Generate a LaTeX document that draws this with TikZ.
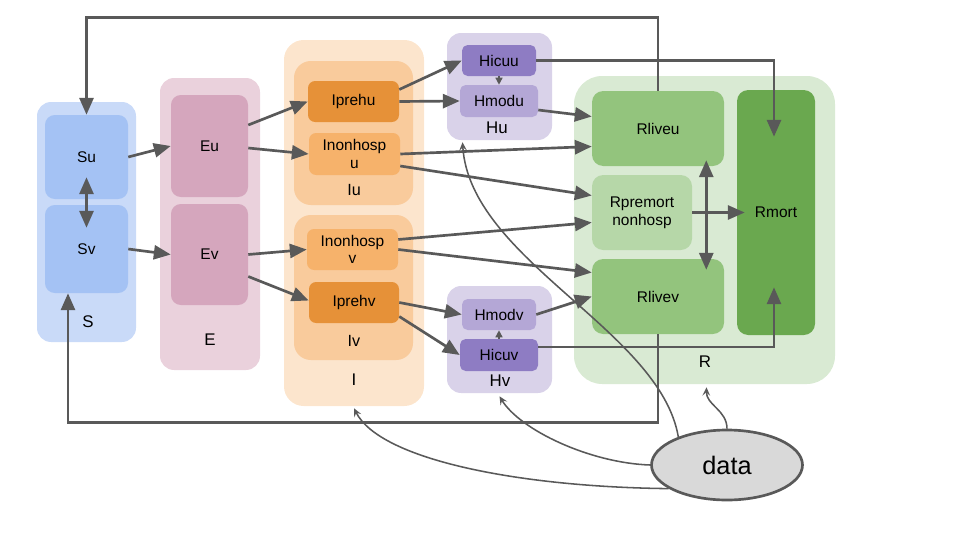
\documentclass[tikz,border=0pt]{standalone}
\usepackage{fontspec}
\setmainfont{Liberation Sans}
\usetikzlibrary{arrows.meta,calc,shapes.geometric}

\definecolor{sOut}{HTML}{C9DAF8}
\definecolor{sIn}{HTML}{A4C2F4}
\definecolor{eOut}{HTML}{EAD1DC}
\definecolor{eIn}{HTML}{D5A6BD}
\definecolor{iOut}{HTML}{FCE5CD}
\definecolor{iMid}{HTML}{F9CB9C}
\definecolor{iPre}{HTML}{E69138}
\definecolor{iNon}{HTML}{F6B26B}
\definecolor{hOut}{HTML}{D9D2E9}
\definecolor{hIcu}{HTML}{8E7CC3}
\definecolor{hMod}{HTML}{B4A7D6}
\definecolor{rOut}{HTML}{D9EAD3}
\definecolor{rLive}{HTML}{93C47D}
\definecolor{rPre}{HTML}{B6D7A8}
\definecolor{rMort}{HTML}{6AA84F}
\definecolor{dataFill}{HTML}{D9D9D9}
\definecolor{ink}{HTML}{595959}

\tikzset{
  grp/.style={rectangle, inner sep=0pt, draw=none},
  cell/.style={rectangle, rounded corners=7pt, inner sep=0pt, align=center,
    font=\fontsize{11}{12.5}\selectfont},
  tag/.style={inner sep=0pt, font=\fontsize{12}{14}\selectfont},
  subtag/.style={inner sep=0pt, font=\fontsize{11.5}{13}\selectfont},
  flow/.style={draw=ink, line width=1.9pt, line join=miter,
    -{Triangle[length=12pt,width=10pt]}},
  twoway/.style={draw=ink, line width=1.9pt,
    {Triangle[length=12pt,width=10pt]}-{Triangle[length=12pt,width=10pt]}},
  minor/.style={draw=ink, line width=1pt, -{Triangle[length=5pt,width=5pt]}},
  feed/.style={draw=ink, line width=1.1pt,
    -{Stealth[length=6pt,width=5.5pt,inset=2.5pt,open]}},
}

% box from pixel corners (x1,y1)-(x2,y2)
\newcommand{\pbox}[7]{%
  \node[#2, minimum width={(#5-#3)*0.025cm}, minimum height={(#6-#4)*0.025cm}]
    (#1) at ({(#3+#5)/2},{(#4+#6)/2}) {#7};}

\begin{document}
\begin{tikzpicture}[x=0.025cm, y=-0.025cm]
\useasboundingbox (0,0) rectangle (960,540);

% ---- S compartment
\pbox{S}{grp, fill=sOut, rounded corners=10pt}{37}{102}{136}{342}{}
\pbox{Su}{cell, fill=sIn}{45}{115}{128}{199}{Su}
\pbox{Sv}{cell, fill=sIn}{45}{205}{128}{293}{Sv}
\node[tag] (Slab) at (88,322) {S};

% ---- E compartment
\pbox{E}{grp, fill=eOut, rounded corners=10pt}{160}{78}{260}{370}{}
\pbox{Eu}{cell, fill=eIn}{171}{95}{248}{197}{Eu}
\pbox{Ev}{cell, fill=eIn}{171}{204}{248}{305}{Ev}
\node[tag] (Elab) at (210,340) {E};

% ---- I compartment
\pbox{I}{grp, fill=iOut, rounded corners=14pt}{284}{40}{424}{406}{}
\pbox{Iu}{grp, fill=iMid, rounded corners=12pt}{294}{61}{413}{205}{}
\pbox{Iv}{grp, fill=iMid, rounded corners=12pt}{294}{215}{413}{360}{}
\pbox{Iprehu}{cell, fill=iPre, rounded corners=5pt}{308}{81}{399}{122}{Iprehu}
\pbox{Inonu}{cell, fill=iNon, rounded corners=5pt}{309}{133}{400}{175}{Inonhosp\\u}
\pbox{Inonv}{cell, fill=iNon, rounded corners=5pt}{307}{229}{398}{270}{Inonhosp\\v}
\pbox{Iprehv}{cell, fill=iPre, rounded corners=5pt}{309}{282}{399}{323}{Iprehv}
\node[tag] (Ilab) at (354,380) {I};
\node[subtag] (Iulab) at (354,190) {Iu};
\node[subtag] (Ivlab) at (354,341) {Iv};

% ---- H compartments
\pbox{Hu}{grp, fill=hOut, rounded corners=10pt}{447}{33}{552}{140}{}
\pbox{Hicuu}{cell, fill=hIcu, rounded corners=4pt}{462}{45}{536}{76}{Hicuu}
\pbox{Hmodu}{cell, fill=hMod, rounded corners=4pt}{460}{85}{538}{117}{Hmodu}
\node[tag] (Hulab) at (497,128) {Hu};
\pbox{Hv}{grp, fill=hOut, rounded corners=10pt}{447}{286}{552}{393}{}
\pbox{Hmodv}{cell, fill=hMod, rounded corners=4pt}{462}{299}{536}{330}{Hmodv}
\pbox{Hicuv}{cell, fill=hIcu, rounded corners=4pt}{460}{339}{538}{371}{Hicuv}
\node[tag] (Hvlab) at (500,381) {Hv};

% ---- R compartment
\pbox{R}{grp, fill=rOut, rounded corners=20pt}{574}{76}{835}{384}{}
\pbox{Rliveu}{cell, fill=rLive, rounded corners=8pt}{592}{91}{724}{166}{Rliveu}
\pbox{Rpre}{cell, fill=rPre, rounded corners=8pt}{592}{175}{692}{250}{Rpremort\\nonhosp}
\pbox{Rlivev}{cell, fill=rLive, rounded corners=8pt}{592}{259}{724}{334}{Rlivev}
\pbox{Rmort}{cell, fill=rMort, rounded corners=8pt}{737}{90}{815}{335}{Rmort}
\node[tag] (Rlab) at (705,362) {R};

% ---- data source
\node[ellipse, draw=ink, line width=1.9pt, fill=dataFill, inner sep=0pt,
  minimum width=151*0.025cm, minimum height=70*0.025cm,
  font=\fontsize{18}{20}\selectfont] (data) at (727,465) {data};

% ---- flows
\draw[twoway] ($(Su.south)+(0,-22)$) -- ($(Sv.north)+(0,23)$);
\draw[flow] (Su.east) -- (Eu.west);
\draw[flow] (Sv.east) -- (Ev.west);
\draw[flow] ($(Eu.east)+(0,-21)$) -- (Iprehu.west);
\draw[flow] ($(Eu.east)+(0,2)$) -- (Inonu.west);
\draw[flow] (Ev.east) -- (Inonv.west);
\draw[flow] ($(Ev.east)+(0,22)$) -- ($(Iprehv.west)+(0,-2)$);
\draw[flow] ($(Iprehu.east)+(0,-12)$) -- (Hicuu.west);
\draw[flow] (Iprehu.east) -- (Hmodu.west);
\draw[flow] (Inonu.east) -- ($(Rliveu.west)+(0,18)$);
\draw[flow] ($(Inonu.east)+(0,12)$) -- ($(Rpre.west)+(0,-17)$);
\draw[flow] ($(Inonv.east)+(0,-10)$) -- ($(Rpre.west)+(0,10)$);
\draw[flow] (Inonv.east) -- ($(Rlivev.west)+(0,-24)$);
\draw[flow] (Iprehv.east) -- (Hmodv.west);
\draw[flow] ($(Iprehv.east)+(0,14)$) -- (Hicuv.west);
\draw[flow] ($(Hmodu.east)+(0,9)$) -- ($(Rliveu.west)+(0,-12)$);
\draw[flow] (Hmodv.east) -- (Rlivev.west);
\draw[minor] (Hicuu.south) -- (Hmodu.north);
\draw[minor] (Hicuv.north) -- (Hmodv.south);
\draw[flow] (Hicuu.east) -| ($(Rmort.north)+(-2,47)$);
\draw[flow] ($(Hicuv.east)+(0,-8)$) -| ($(Rmort.south)+(-2,-48)$);
\draw[twoway] ($(Rliveu.south east)+(-18,-6)$) -- ($(Rlivev.north east)+(-18,11)$);
\draw[flow] (Rpre.east) -- ($(Rmort.west)+(8,0)$);

% ---- loss of immunity back to S
\draw[flow] (Rliveu.north) -- ++(0,-73) -| (Su.north);
\draw[flow] (Rlivev.south) -- ++(0,88) -| ($(Sv.south)+(-18.5,0)$);

% ---- data feeds
\draw[feed] (data.202) .. controls (520,487) and (380,460) .. ($(I.south)+(0,2)$);
\draw[feed] (data.west) .. controls (590,463) and (520,430) .. ($(Hv.south)+(0,3)$);
\draw[feed] (data.north) .. controls (727,410) and (706,405) .. ($(R.south)+(2,3)$);
\draw[feed] (data.150) .. controls (660,330) and (470,260) .. ($(Hu.south)+(-37,2)$);
\end{tikzpicture}
\end{document}
